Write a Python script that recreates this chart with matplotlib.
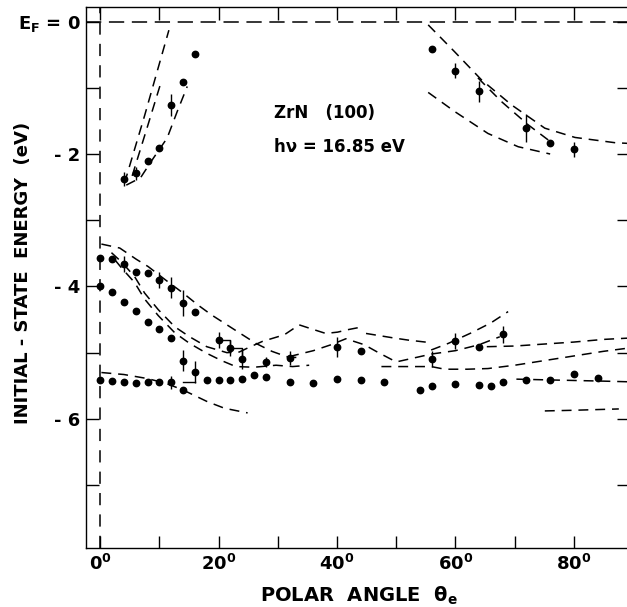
import matplotlib
matplotlib.use("Agg")
import matplotlib.pyplot as plt

plt.rcParams['font.family'] = ['DejaVu Sans']
plt.rcParams['font.weight'] = 'bold'
plt.rcParams['mathtext.fontset'] = 'custom'
plt.rcParams['mathtext.rm'] = 'DejaVu Sans:bold'
plt.rcParams['mathtext.it'] = 'DejaVu Sans:bold'
plt.rcParams['mathtext.bf'] = 'DejaVu Sans:bold'
plt.rcParams['mathtext.sf'] = 'DejaVu Sans:bold'

# ---------------- data (polar angle in deg, initial-state energy in eV) ----------------
# upper-left branch
ul_x = [4, 6, 8, 10, 12, 14, 16]
ul_y = [-2.38, -2.29, -2.10, -1.91, -1.26, -0.91, -0.49]
ul_err = [0.11, 0.10, 0, 0, 0.16, 0, 0]
# upper-right branch
ur_x = [56, 60, 64, 72, 76, 80]
ur_y = [-0.42, -0.74, -1.05, -1.61, -1.83, -1.93]
ur_err = [0, 0.11, 0.16, 0.21, 0, 0.11]
# lower branches
s1_x = [0, 2, 4, 6, 8, 10, 12, 14, 16, 20, 22, 24, 28, 32, 40, 44, 56, 60, 64, 68]
s1_y = [-3.57, -3.59, -3.66, -3.78, -3.80, -3.90, -4.02, -4.25, -4.38, -4.81, -4.93,
        -5.09, -5.14, -5.08, -4.91, -4.97, -5.09, -4.82, -4.91, -4.72]
s1_err = [0, 0, 0.12, 0, 0, 0.12, 0.16, 0.20, 0, 0.12, 0.12, 0.15, 0.08, 0.10, 0.15,
          0, 0.12, 0.12, 0, 0.13]
s2_x = [0, 2, 4, 6, 8, 10, 12]
s2_y = [-3.99, -4.09, -4.24, -4.37, -4.53, -4.65, -4.78]
s2b_x = [14, 16]
s2b_y = [-5.12, -5.29]
s2b_err = [0.16, 0.17]
s3_x = [0, 2, 4, 6, 8, 10, 12, 14, 18, 20, 22, 24, 26, 28, 32, 36, 40, 44, 48, 54, 56,
        60, 64, 66, 68, 72, 76, 80, 84]
s3_y = [-5.42, -5.43, -5.44, -5.46, -5.44, -5.44, -5.45, -5.56, -5.41, -5.42, -5.41,
        -5.40, -5.33, -5.37, -5.44, -5.46, -5.40, -5.42, -5.45, -5.57, -5.51, -5.48,
        -5.49, -5.51, -5.44, -5.42, -5.41, -5.32, -5.38]
s3_err = [0, 0, 0, 0, 0, 0, 0.10] + [0] * 22
step_lo_x = [14, 16]
step_lo_y = [-5.45, -5.45]

# calculated bands (dashed)
band_a_x = [4.1, 7.5, 11.6];                  band_a_y = [-2.44, -1.42, -0.13]
band_b_x = [5.4, 8.0, 10.4];                  band_b_y = [-2.33, -1.58, -0.88]
band_c_x = [4.4, 6.8, 9.0, 11.3, 13.0, 14.7]; band_c_y = [-2.47, -2.36, -2.06, -1.76, -1.36, -0.98]
band_d_x = [55.4, 59.8, 64.4, 69.5, 75.1, 80.2, 87.0, 89.3]
band_d_y = [-0.05, -0.45, -0.88, -1.26, -1.61, -1.75, -1.83, -1.84]
band_e_x = [63.8, 67.8, 72.3, 76.0];          band_e_y = [-0.85, -1.21, -1.56, -1.81]
band_f_x = [55.4, 59.9, 65.5, 70.6, 76.0];    band_f_y = [-1.07, -1.36, -1.69, -1.89, -2.00]
band_g_x = [0.2, 3.3, 6.1, 8.1, 11, 14, 16.5, 18.8, 22.8, 26.3, 29, 31.5, 34]
band_g_y = [-3.36, -3.42, -3.59, -3.70, -3.90, -4.10, -4.28, -4.43, -4.66, -4.86, -4.98, -5.06, -5.08]
band_h_x = [1.9, 3.6, 5.8, 7.5, 9.8, 12.6, 15.1, 18, 21.4, 23.5, 24.9, 27.4, 31.1, 33.6,
            36, 38.1, 40.1, 42, 44.3]
band_h_y = [-3.49, -3.63, -3.85, -4.10, -4.35, -4.61, -4.76, -4.91, -5.00, -4.99, -4.93,
            -4.83, -4.73, -4.58, -4.65, -4.71, -4.69, -4.65, -4.61]
band_i_x = [2.5, 3.6, 5.8, 7.5, 9.8, 12.6, 15.1, 18, 20.5, 22.9, 26, 29.7, 32.5, 35.3]
band_i_y = [-3.60, -3.72, -3.94, -4.19, -4.44, -4.70, -4.86, -5.01, -5.12, -5.21, -5.22,
            -5.19, -5.21, -5.19]
band_j_x = [31.9, 36, 39, 41.5, 44.6, 47, 50, 53, 56, 60, 64, 67.5]
band_j_y = [-5.06, -4.97, -4.88, -4.79, -4.88, -5.00, -5.14, -5.08, -5.02, -4.97, -4.88, -4.76]
band_k_x = [44.9, 49.7, 52, 55.9];            band_k_y = [-4.71, -4.78, -4.81, -4.85]
band_l_x = [55.9, 58.8, 62.7, 66, 68.9];      band_l_y = [-4.96, -4.86, -4.70, -4.55, -4.38]
band_m_x = [65.3, 70, 75, 80, 85, 89.3];      band_m_y = [-4.91, -4.90, -4.87, -4.84, -4.80, -4.78]
band_n_x = [47.5, 52, 55.9, 58.2, 62, 65.5, 70, 75, 80, 85, 89.3]
band_n_y = [-5.21, -5.21, -5.21, -5.25, -5.25, -5.24, -5.19, -5.12, -5.05, -4.98, -4.93]
band_o_x = [70.3, 75, 80, 85, 89.3];          band_o_y = [-5.40, -5.41, -5.42, -5.43, -5.44]
band_p_x = [75.1, 80, 87.6];                  band_p_y = [-5.88, -5.87, -5.85]
band_q_x = [0.2, 4, 7.9, 11, 13.9, 18.1, 21, 24.9]
band_q_y = [-5.30, -5.33, -5.39, -5.46, -5.56, -5.74, -5.84, -5.91]

bands = [(band_a_x, band_a_y), (band_b_x, band_b_y), (band_c_x, band_c_y),
         (band_d_x, band_d_y), (band_e_x, band_e_y), (band_f_x, band_f_y),
         (band_g_x, band_g_y), (band_h_x, band_h_y), (band_i_x, band_i_y),
         (band_j_x, band_j_y), (band_k_x, band_k_y), (band_l_x, band_l_y),
         (band_m_x, band_m_y), (band_n_x, band_n_y), (band_o_x, band_o_y),
         (band_p_x, band_p_y), (band_q_x, band_q_y)]

x_ticks = [0, 20, 40, 60, 80]
x_minor = [10, 30, 50, 70]
x_ticklabels = ["0$^0$", "20$^0$", "40$^0$", "60$^0$", "80$^0$"]
y_ticks = [0, -2, -4, -6]
y_minor = [-1, -3, -5, -7]
y_ticklabels = ["E$_F$ = 0", "- 2", "- 4", "- 6"]

# ---------------- figure ----------------
W, H = 627, 607
fig = plt.figure(figsize=(W / 100, H / 100), dpi=100)
ax = fig.add_axes([86 / W, 1 - 548 / H, (W - 86) / W + 0.003, (548 - 7) / H])
ax.set_xlim(-2.4, 89.3)
ax.set_ylim(-7.95, 0.22)

# Fermi level and normal emission reference lines
ax.axhline(0, color='black', lw=1.1, dashes=(10, 5))
ax.axvline(0, color='black', lw=1.1, dashes=(8, 6))

for bx, by in bands:
    ax.plot(bx, by, color='black', lw=1.1, dashes=(6.5, 4.5))

mk = dict(fmt='o', color='black', ms=4.6, elinewidth=1.0, capsize=0)
ax.errorbar(ul_x, ul_y, yerr=ul_err, **mk)
ax.errorbar(ur_x, ur_y, yerr=ur_err, **mk)
ax.errorbar(s1_x, s1_y, yerr=s1_err, **mk)
ax.plot(s2_x, s2_y, 'o', color='black', ms=4.6)
ax.errorbar(s2b_x, s2b_y, yerr=s2b_err, **mk)
ax.errorbar(s3_x, s3_y, yerr=s3_err, **mk)
ax.plot(step_lo_x, step_lo_y, color='black', lw=1.0)
ax.step(s1_x[9:12], s1_y[9:12], where='post', color='black', lw=1.0)

ax.text(29.3, -1.38, "ZrN   (100)", fontsize=12, fontweight='bold', va='center')
ax.text(29.3, -1.89, "h\u03bd = 16.85 eV", fontsize=12, fontweight='bold', va='center')

ax.set_xticks(x_ticks)
ax.set_xticklabels(x_ticklabels)
ax.set_xticks(x_minor, minor=True)
ax.set_yticks(y_ticks)
ax.set_yticklabels(y_ticklabels)
ax.set_yticks(y_minor, minor=True)
ax.tick_params(axis='x', which='both', direction='in', top=True, length=9, width=1.0,
               labelsize=13, pad=4)
ax.tick_params(axis='y', which='major', direction='in', right=True, length=9, width=1.0,
               labelsize=13, pad=4)
ax.tick_params(axis='y', which='minor', direction='in', right=True, length=9, width=1.0)
for s in ax.spines.values():
    s.set_linewidth(1.0)

ax.set_xlabel("POLAR  ANGLE  $\\theta_e$", fontsize=14, fontweight='bold')
ax.xaxis.set_label_coords(0.503, -0.068)
ax.set_ylabel("INITIAL - STATE  ENERGY  (eV)", fontsize=13, fontweight='bold')
ax.yaxis.set_label_coords(-0.10, 0.508)

fig.savefig("out.png", dpi=100)
